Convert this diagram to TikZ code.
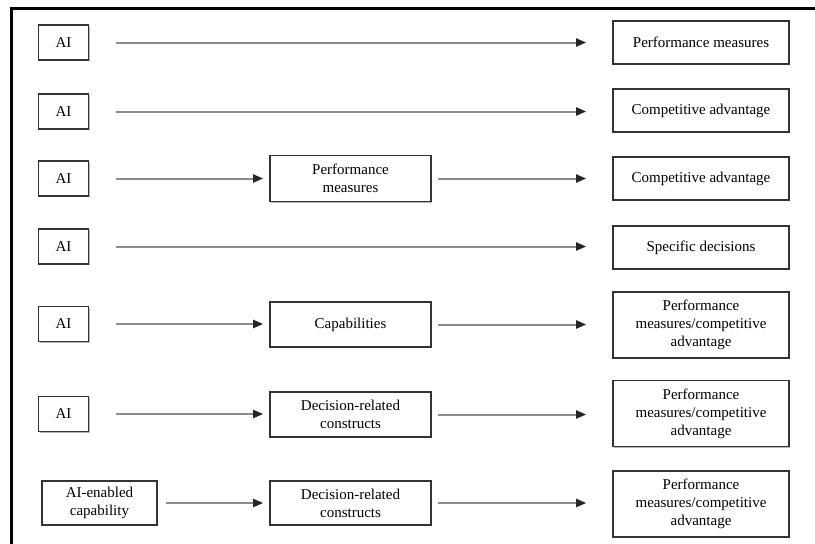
\documentclass[tikz,border=0pt]{standalone}
\usepackage{fontspec}
\setmainfont{Liberation Serif}
\usetikzlibrary{arrows.meta,shadows}
\begin{document}
\begin{tikzpicture}[x=1pt,y=-1pt,
  box/.style={draw=black!80, line width=1.6pt, fill=white, align=center, inner sep=0pt,
    font=\fontsize{15}{18}\selectfont,
    drop shadow={shadow xshift=1.4pt, shadow yshift=-1.4pt, fill=black!35, opacity=0.8}},
  lbox/.style={box, minimum width=50pt, minimum height=35pt},
  mbox/.style={box, minimum width=161pt, minimum height=45pt},
  rbox/.style={box, minimum width=176pt, minimum height=43pt},
  tbox/.style={box, minimum width=176pt, minimum height=66pt},
  arr/.style={draw=black!45, line width=2pt, -{Triangle[length=10pt,width=8pt,color=black!85]}}
]
\useasboundingbox (0,0) rectangle (815,544);
\draw[line width=3pt] (11,544) -- (11,8.5) -- (815,8.5);

% row 1
\node[lbox] (a1) at (63.5,42.5) {AI};
\node[rbox] (r1) at (701,42.5) {Performance measures};
% row 2
\node[lbox] (a2) at (63.5,111.5) {AI};
\node[rbox] (r2) at (701,110.5) {Competitive advantage};
% row 3
\node[lbox] (a3) at (63.5,178.5) {AI};
\node[mbox, minimum height=46pt] (m3) at (350.5,178.5) {Performance\\measures};
\node[rbox] (r3) at (701,178.5) {Competitive advantage};
% row 4
\node[lbox] (a4) at (63.5,246.5) {AI};
\node[rbox] (r4) at (701,247.5) {Specific decisions};
% row 5
\node[lbox] (a5) at (63.5,324) {AI};
\node[mbox] (m5) at (350.5,324.5) {Capabilities};
\node[tbox] (r5) at (701,325) {Performance\\measures/competitive\\advantage};
% row 6
\node[lbox] (a6) at (63.5,414) {AI};
\node[mbox] (m6) at (350.5,414.5) {Decision-related\\constructs};
\node[tbox] (r6) at (701,413.5) {Performance\\measures/competitive\\advantage};
% row 7
\node[box, minimum width=115pt, minimum height=44pt] (a7) at (99.5,503) {AI-enabled\\capability};
\node[mbox, minimum height=44pt] (m7) at (350.5,503) {Decision-related\\constructs};
\node[tbox] (r7) at (701,504) {Performance\\measures/competitive\\advantage};

% arrows
\draw[arr, shorten <=27pt, shorten >=26pt] (a1.east) -- (a1.east -| r1.west);
\draw[arr, shorten <=27pt, shorten >=26pt] (a2.east) -- (a2.east -| r2.west);
\draw[arr, shorten <=27pt, shorten >=6pt] (a3.east) -- (a3.east -| m3.west);
\draw[arr, shorten <=6pt, shorten >=26pt] (m3.east) -- (m3.east -| r3.west);
\draw[arr, shorten <=27pt, shorten >=26pt] (a4.east) -- (a4.east -| r4.west);
\draw[arr, shorten <=27pt, shorten >=6pt] (a5.east) -- (a5.east -| m5.west);
\draw[arr, shorten <=6pt, shorten >=26pt] (m5.east) -- (m5.east -| r5.west);
\draw[arr, shorten <=27pt, shorten >=6pt] (a6.east) -- (a6.east -| m6.west);
\draw[arr, shorten <=6pt, shorten >=26pt] (m6.east) -- (m6.east -| r6.west);
\draw[arr, shorten <=8pt, shorten >=6pt] (a7.east) -- (a7.east -| m7.west);
\draw[arr, shorten <=6pt, shorten >=26pt] (m7.east) -- (m7.east -| r7.west);
\end{tikzpicture}
\end{document}
